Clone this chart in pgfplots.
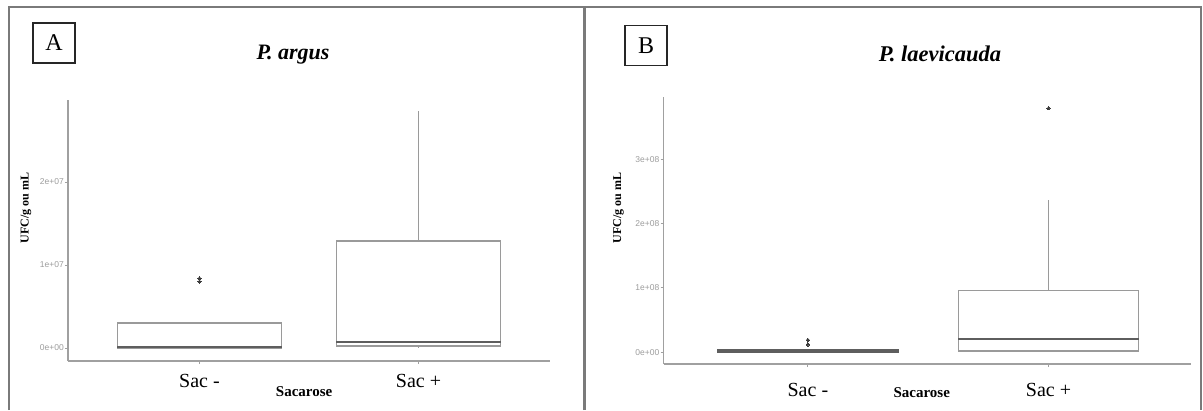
\documentclass[border=0pt]{standalone}
\usepackage{fontspec}
\setmainfont{Liberation Serif}
\setsansfont{Liberation Sans}
\usepackage{pgfplots}
\pgfplotsset{compat=1.18}
\usepgfplotslibrary{statistics}
\definecolor{framegray}{HTML}{7A7A7A}
\definecolor{axisgray}{HTML}{A0A0A0}
\definecolor{boxgray}{HTML}{9A9A9A}
\definecolor{medgray}{HTML}{5E5E5E}
\definecolor{ptgray}{HTML}{3C3C3C}
\definecolor{tickgray}{HTML}{9C9C9C}
\pgfplotsset{
 panel/.style={
  scale only axis,
  anchor=south west,
  axis x line=bottom, axis y line=left,
  axis line style={axisgray, line width=1.6pt, -},
  xtick={1,2}, xticklabels={Sac -, Sac +},
  xticklabel style={font=\fontsize{20}{20}\selectfont, anchor=north, inner sep=0pt},
  yticklabel style={font=\sffamily\fontsize{8.5}{9}\selectfont, text=tickgray, anchor=east, inner sep=1pt},
  tick style={axisgray, line width=0.8pt},
  tick align=outside,
  major tick length=3pt,
  scaled ticks=false,
  xlabel={\textbf{Sacarose}},
  xlabel style={font=\fontsize{15}{15}\selectfont, anchor=center},
  ylabel={\textbf{UFC/g ou mL}},
  ylabel style={font=\fontsize{12}{12}\selectfont, anchor=center},
  boxplot/draw direction=y,
  boxplot/box extend=0.75,
  boxplot/whisker extend=0,
  boxplot/every box/.style={draw=boxgray, line width=1.4pt},
  boxplot/every whisker/.style={draw=boxgray, line width=1.4pt},
  boxplot/every median/.style={draw=medgray, line width=2pt},
  clip=false,
 },
 outl/.style={draw=boxgray, mark=*, mark size=1.7pt, mark options={fill=ptgray, draw=ptgray, line width=0pt}},
}
\begin{document}
\begin{tikzpicture}
\path[use as bounding box] (0pt,0pt) rectangle (1203pt,410pt);
% frames
\draw[framegray, line width=2.2pt] (9pt,0pt) -- (9pt,403pt) -- (1201pt,403pt) -- (1201pt,0pt);
\draw[framegray, line width=2.5pt] (584.5pt,0pt) -- (584.5pt,403pt);
% panel labels
\node[draw=black!85, line width=1.2pt, minimum width=42pt, minimum height=40pt, inner sep=0pt, font=\fontsize{24}{24}\selectfont] at (54pt,367pt) {A};
\node[draw=black!85, line width=1.2pt, minimum width=42pt, minimum height=40pt, inner sep=0pt, font=\fontsize{24}{24}\selectfont] at (646pt,364.5pt) {B};
\node[font=\bfseries\itshape\fontsize{22}{22}\selectfont] at (293pt,355pt) {P. argus};
\node[font=\bfseries\itshape\fontsize{22.5}{22.5}\selectfont] at (940pt,356pt) {P. laevicauda};

% Panel A
\begin{axis}[panel,
  at={(68pt,49pt)}, width=482pt, height=261pt,
  xmin=0.4, xmax=2.6, ymin=-1.566e6, ymax=2.988e7,
  ytick={0,1e7,2e7}, yticklabels={0e+00,1e+07,2e+07},
  xticklabel style={yshift=-10pt},
  xlabel style={at={(axis description cs:0.49,0)}, yshift=-31pt},
  ylabel style={at={(axis description cs:0,0.586)}, yshift=42pt},
]
\addplot[outl, boxplot prepared={draw position=1, lower whisker=0, lower quartile=0, median=1e5, upper quartile=3.0e6, upper whisker=3.0e6}] coordinates {(0,8.0e6) (0,8.4e6)};
\addplot[outl, boxplot prepared={draw position=2, lower whisker=0, lower quartile=2.4e5, median=7.6e5, upper quartile=1.29e7, upper whisker=2.85e7}] coordinates {};
\end{axis}

% Panel B
\begin{axis}[panel,
  at={(663.5pt,46pt)}, width=527pt, height=267pt,
  xmin=0.4, xmax=2.59, ymin=-1.82e7, ymax=3.964e8,
  ytick={0,1e8,2e8,3e8}, yticklabels={0e+00,1e+08,2e+08,3e+08},
  xticklabel style={yshift=-16pt},
  xlabel style={at={(axis description cs:0.49,0)}, yshift=-29pt},
  ylabel style={at={(axis description cs:0,0.584)}, yshift=45pt},
]
\addplot[outl, boxplot prepared={draw position=1, lower whisker=0, lower quartile=0, median=1.5e6, upper quartile=4e6, upper whisker=4e6},
  boxplot/every box/.style={draw=medgray, line width=2pt}] coordinates {(0,1.2e7) (0,1.9e7)};
\addplot[outl, boxplot prepared={draw position=2, lower whisker=0, lower quartile=2e6, median=2.0e7, upper quartile=9.6e7, upper whisker=2.36e8}] coordinates {(0,3.79e8)};
\end{axis}
\end{tikzpicture}
\end{document}
